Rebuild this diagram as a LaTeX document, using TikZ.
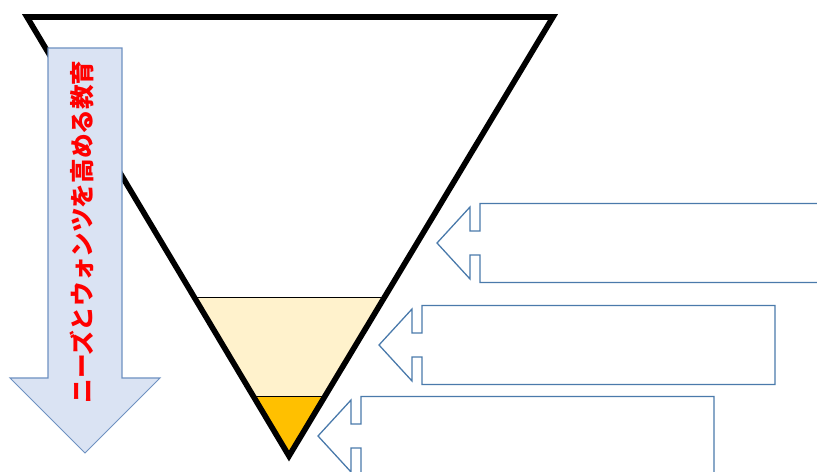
\documentclass[tikz,border=0pt]{standalone}
\usepackage{fontspec}
\usepackage{tikz}
\usepackage{xcolor}
\usetikzlibrary{positioning}
\newfontfamily\jpfont{Noto Sans CJK JP}
\definecolor{paleY}{HTML}{FFF2CC}
\definecolor{gold}{HTML}{FFC000}
\definecolor{flowfill}{HTML}{DAE3F3}
\definecolor{flowline}{HTML}{6E91C1}
\definecolor{calline}{HTML}{4A7AAB}

\begin{document}
\begin{tikzpicture}[x=0.3mm,y=-0.3mm,
    funnel/.style={line width=4.8pt,line join=miter},
    band/.style={draw=black,line width=0.8pt},
    callout/.style={draw=calline,line width=1.1pt,fill=white},
    flow/.style={draw=flowline,line width=0.9pt,fill=flowfill}]
    \useasboundingbox (0,0) rectangle (817,472);
    \clip (0,0) rectangle (817,472);
    \coordinate (tl) at (27,17);
    \coordinate (tr) at (553,17);
    \coordinate (apex) at (289,456);
    % layers inside the funnel
    \begin{scope}
      \clip (tl)--(tr)--(apex)--cycle;
      \fill[paleY] (0,297) rectangle (600,396);
      \fill[gold] (0,396) rectangle (600,472);
      \draw[band] (0,297)--(600,297);
      \draw[band] (0,396)--(600,396);
    \end{scope}
    \draw[funnel] (tl)--(tr)--(apex)--cycle;
    % downward arrow
    \draw[flow] (48,48)--(122,48)--(122,378)--(160,378)--(85,453)
                --(10,378)--(48,378)--cycle;
    \node[rotate=90,text=red,font=\jpfont\bfseries\fontsize{21}{25}\selectfont]
         (needs) at (82,232) {ニーズとウォンツを高める教育};
    % callouts
    \foreach \bx/\cy/\rx in {480/243/830, 422/345/775, 361/436/714}
      \draw[callout] (\bx,\cy-39.5)--(\rx,\cy-39.5)--(\rx,\cy+39.5)
            --(\bx,\cy+39.5)--(\bx,\cy+12)--(\bx-10,\cy+12)--(\bx-10,\cy+36)
            --(\bx-43,\cy)--(\bx-10,\cy-36)--(\bx-10,\cy-12)--(\bx,\cy-12)--cycle;
\end{tikzpicture}
\end{document}
